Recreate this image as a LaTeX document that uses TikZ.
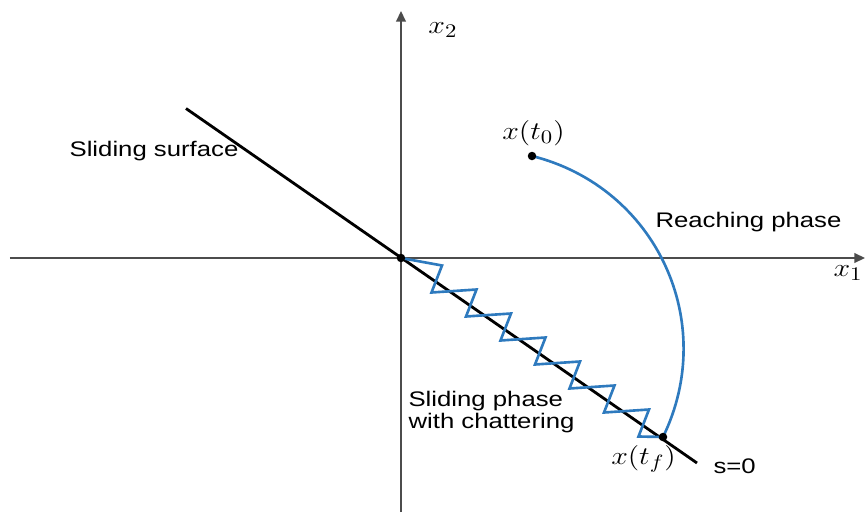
\documentclass[tikz,border=0pt]{standalone}
\usepackage{fontspec}
\setmainfont{Liberation Sans}
\usetikzlibrary{arrows.meta}
\definecolor{phaseblue}{RGB}{46,122,190}
\tikzset{
  axis/.style={draw=black!70, line width=0.9pt, -{Triangle[length=6pt,width=5.5pt]}},
  surface/.style={line width=1.6pt},
  traj/.style={draw=phaseblue, line width=1.5pt, line join=miter},
  lbl/.style={font=\fontsize{12}{12.5}\selectfont, xscale=1.22, inner sep=1pt},
  mlbl/.style={font=\fontsize{15.5}{17}\selectfont, xscale=1.18, inner sep=1pt}
}
\begin{document}
\begin{tikzpicture}
  \useasboundingbox (-8.02,-5.08) rectangle (9.30,5.16);
  % points in the phase plane
  \coordinate (O) at (0,0);
  \coordinate (t0) at (2.62,2.04);
  \coordinate (tf) at (5.24,-3.58);
  % axes
  \coordinate (xl) at (-7.82,0);
  \coordinate (xr) at (9.28,0);
  \coordinate (yb) at (0,-5.08);
  \coordinate (yt) at (0,4.94);
  \draw[axis] (xl) -- (xr);
  \draw[axis] (yb) -- (yt);
  \node[mlbl, anchor=east] (x1) at (9.28,-0.3) {$x_1$};
  \node[mlbl] (x2) at (0.84,4.56) {$x_2$};
  % sliding surface s=0
  \coordinate (sa) at (-4.3,2.99);
  \coordinate (sb) at (5.92,-4.1);
  \draw[surface] (sa) -- (sb);
  % chattering along the surface
  \draw[traj] (O) \foreach \k in {1,...,7} { -- ({0.69*\k+0.13},{-0.48*\k+0.33}) -- ({0.69*\k-0.08},{-0.48*\k-0.21}) } -- (tf);
  % reaching phase
  \draw[traj] (t0) .. controls (5.10,1.42) and (6.36,-1.28) .. (tf);
  \foreach \p in {O,t0,tf} { \fill (\p) circle (0.085); }
  % labels
  \node[mlbl] (lt0) at (2.65,2.5) {$x(t_0)$};
  \node[mlbl] (ltf) at (4.85,-4.02) {$x(t_f)$};
  \node[lbl] (surf) at (-4.94,2.14) {Sliding surface};
  \node[lbl] (reach) at (6.95,0.72) {Reaching phase};
  \node[lbl, align=left, anchor=west] (slide) at (0.1,-3.08) {Sliding phase\\with chattering};
  \node[lbl, anchor=west] (s0) at (6.2,-4.16) {s=0};
\end{tikzpicture}
\end{document}
